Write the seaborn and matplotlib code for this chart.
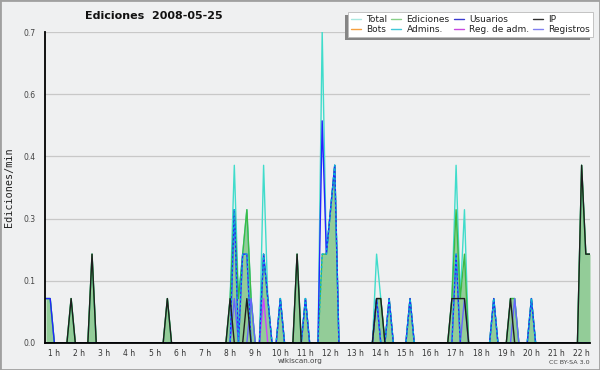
import numpy as np
import pandas as pd
import seaborn as sns
import matplotlib
matplotlib.use("Agg")
import matplotlib.pyplot as plt
from matplotlib.lines import Line2D
from matplotlib.patches import Rectangle
from matplotlib.transforms import ScaledTranslation

# ---------------- data (10-minute bins, edits per minute) ----------------
title = "Ediciones  2008-05-25"
bin_minutes = list(range(50, 22 * 60 + 31, 10))          # 0:50 ... 22:30
bin_labels = [f"{m // 60}:{m % 60:02d}" for m in bin_minutes]

total = {"0:50": .1, "1:00": .1, "1:50": .1, "2:40": .2, "5:40": .1,
         "8:10": .1, "8:20": .4, "8:30": .1, "8:40": .2, "8:50": .3, "9:00": .1,
         "9:30": .4, "9:40": .1, "10:10": .1, "10:50": .2, "11:10": .1,
         "11:50": .7, "12:00": .2, "12:10": .3, "12:20": .4,
         "14:00": .2, "14:10": .1, "14:30": .1, "15:20": .1,
         "17:00": .1, "17:10": .4, "17:20": .1, "17:30": .3,
         "18:40": .1, "19:20": .1, "19:30": .1, "20:10": .1,
         "22:10": .4, "22:20": .2, "22:30": .2}
ediciones = {"0:50": .1, "1:00": .1, "1:50": .1, "2:40": .2, "5:40": .1,
             "8:10": .1, "8:20": .3, "8:30": .1, "8:40": .2, "8:50": .3, "9:00": .1,
             "9:30": .2, "9:40": .1, "10:10": .1, "10:50": .2, "11:10": .1,
             "11:50": .2, "12:00": .2, "12:10": .3, "12:20": .4,
             "14:00": .1, "14:10": .1, "14:30": .1, "15:20": .1,
             "17:00": .1, "17:10": .3, "17:20": .1, "17:30": .2,
             "18:40": .1, "19:20": .1, "19:30": .1, "20:10": .1,
             "22:10": .4, "22:20": .2, "22:30": .2}
usuarios = {"0:50": .1, "1:00": .1, "8:20": .3, "8:40": .2, "8:50": .2,
            "9:30": .2, "9:40": .1, "10:10": .1, "11:10": .1,
            "11:50": .5, "12:00": .2, "12:10": .3, "12:20": .4,
            "14:00": .1, "14:30": .1, "15:20": .1, "17:10": .2,
            "18:40": .1, "20:10": .1}
ip = {"1:50": .1, "2:40": .2, "5:40": .1, "8:10": .1, "8:50": .1, "10:50": .2,
      "14:00": .1, "14:10": .1, "17:00": .1, "17:10": .1, "17:20": .1, "17:30": .1,
      "19:20": .1, "22:10": .4, "22:20": .2, "22:30": .2}
bots = {}
admins = {"8:20": .3, "8:40": .2, "8:50": .2, "9:30": .2, "9:40": .1, "10:10": .1,
          "11:10": .1, "11:50": .2, "12:00": .2, "12:10": .3, "12:20": .4,
          "14:00": .1, "14:30": .1, "15:20": .1, "17:10": .2, "18:40": .1, "20:10": .1}
reg_adm = {"9:30": .1}
registros = {"8:20": .1, "9:00": .1, "14:00": .1, "17:30": .1, "19:30": .1}

hour_ticks = list(range(1, 23))
hour_labels = [f"{h} h" for h in hour_ticks]
ytick_values = [0.0, 0.14, 0.28, 0.42, 0.56, 0.70]
ytick_labels = ["0.0", "0.1", "0.3", "0.4", "0.6", "0.7"]

series_names = ["Total", "Ediciones", "Usuarios", "IP", "Bots", "Admins.",
                "Reg. de adm.", "Registros"]
series_data = [total, ediciones, usuarios, ip, bots, admins, reg_adm, registros]
colors = {"Total": "#40dccb", "Ediciones": "#3cba45", "Usuarios": "#2424ff",
          "IP": "#1e1e1e", "Bots": "#ffa030", "Admins.": "#08b4dc",
          "Reg. de adm.": "#cc44ff", "Registros": "#6464ff"}
legend_colors = {"Total": "#a8e8e0", "Ediciones": "#88d088", "Usuarios": "#3a3ad0",
                 "IP": "#303030", "Bots": "#f5a040", "Admins.": "#40c8d8",
                 "Reg. de adm.": "#c848e0", "Registros": "#8080f0"}
zorders = {"Total": 2, "Ediciones": 3, "Reg. de adm.": 3.5, "Registros": 3.6,
           "Bots": 3.7, "Usuarios": 4, "Admins.": 5, "IP": 6}

rows = []
for name, d in zip(series_names, series_data):
    for m, lab in zip(bin_minutes, bin_labels):
        rows.append({"hour": m / 60.0, "value": d.get(lab, 0.0), "series": name})
df = pd.DataFrame(rows)

# ---------------- figure ----------------
sns.set_style("white")
plt.rcParams["font.family"] = ["DejaVu Sans"]
bg = "#eff0f1"
fig = plt.figure(figsize=(6, 3.7), dpi=100, facecolor=bg)
W, H = 600, 370
ax = fig.add_axes([45 / W, (H - 343) / H, 545 / W, (343 - 32) / H])
ax.set_facecolor(bg)

ed = df[df.series == "Ediciones"]
ax.fill_between(ed["hour"], 0, ed["value"], color="#93cc98", lw=0, zorder=1.5)

for name in series_names:
    sub = df[df.series == name]
    if name == "Bots" and sub["value"].max() == 0:
        continue
    kw = {}
    if name == "Admins.":
        kw["linestyle"] = (0, (1.6, 1.6))
    sns.lineplot(data=sub, x="hour", y="value", ax=ax, color=colors[name],
                 lw=1.0, estimator=None, zorder=zorders[name], legend=False, **kw)

x0 = bin_minutes[0] / 60.0
ax.set_xlim(x0 - 0.04, bin_minutes[-1] / 60.0)
ax.set_ylim(0, 0.7)
ax.set_xlabel("")
ax.set_ylabel("")

ax.set_xticks(hour_ticks)
ax.set_xticklabels(hour_labels)
ax.set_xticks([m / 60.0 for m in bin_minutes], minor=True)
ax.tick_params(axis="x", which="both", direction="out", length=3, width=0.8,
               color="black", labelsize=5.5, pad=1, labelcolor="#333333")
off = ScaledTranslation(4 / 100, 0, fig.dpi_scale_trans)
for lab in ax.get_xticklabels():
    lab.set_transform(lab.get_transform() + off)

ax.set_yticks(ytick_values)
ax.set_yticklabels(ytick_labels)
ax.set_yticks(np.arange(0, 0.7001, 0.035), minor=True)
ax.tick_params(axis="y", which="major", direction="out", length=6, width=0.8,
               color="black", labelsize=5.5, pad=0.5, labelcolor="#444444")
ax.tick_params(axis="y", which="minor", direction="out", length=3.5, width=0.8,
               color="black")

ax.yaxis.grid(True, which="major", color="#c8c8c8", lw=0.9)
ax.xaxis.grid(False)
ax.set_axisbelow(True)
for s in ["top", "right"]:
    ax.spines[s].set_visible(False)
for s in ["left", "bottom"]:
    ax.spines[s].set_color("black")
    ax.spines[s].set_linewidth(1.3)
    ax.spines[s].set_zorder(7)

# texts
fig.text(85 / W, 1 - 16 / H, title, ha="left", va="center", fontsize=8,
         fontweight="bold", color="#111111")
fig.text(9 / W, 1 - 187.5 / H, "Ediciones/min", rotation=90, ha="center",
         va="center", fontsize=7.3, family=["DejaVu Sans Mono"], color="#222222")
fig.text(300 / W, 1 - 361 / H, "wikiscan.org", ha="center", va="center",
         fontsize=5.2, color="#444444")
fig.text(590 / W, 1 - 362 / H, "CC BY-SA 3.0", ha="right", va="center",
         fontsize=4.6, color="#444444")

# legend
order = ["Total", "Bots", "Ediciones", "Admins.", "Usuarios", "Reg. de adm.",
         "IP", "Registros"]
handles = [Line2D([], [], color=legend_colors[n], lw=1.0) for n in order]
leg = fig.legend(handles, order, loc="upper right",
                 bbox_to_anchor=(593 / W, 1 - 12 / H), bbox_transform=fig.transFigure,
                 borderaxespad=0, ncol=4, fontsize=6.5, handlelength=1.1,
                 handletextpad=0.6, columnspacing=0.45, labelspacing=0.15,
                 borderpad=0.3, frameon=True, fancybox=False, framealpha=1,
                 facecolor="white", edgecolor="#bbbbbb")
leg.get_frame().set_linewidth(0.6)
for t in leg.get_texts():
    t.set_color("#222222")
leg.set_zorder(10)

fig.canvas.draw()
bb = leg.get_window_extent()
fig.patches.append(Rectangle(((bb.x0 - 3) / W, (bb.y0 - 3.3) / H), bb.width / W,
                             bb.height / H, transform=fig.transFigure,
                             color="#858585", zorder=9, lw=0))
fig.patches.append(Rectangle((0, 0), 1, 1, transform=fig.transFigure, fill=False,
                             edgecolor="#a0a0a0", lw=2.0, zorder=20))

fig.savefig("out.png", dpi=100, facecolor=bg)
